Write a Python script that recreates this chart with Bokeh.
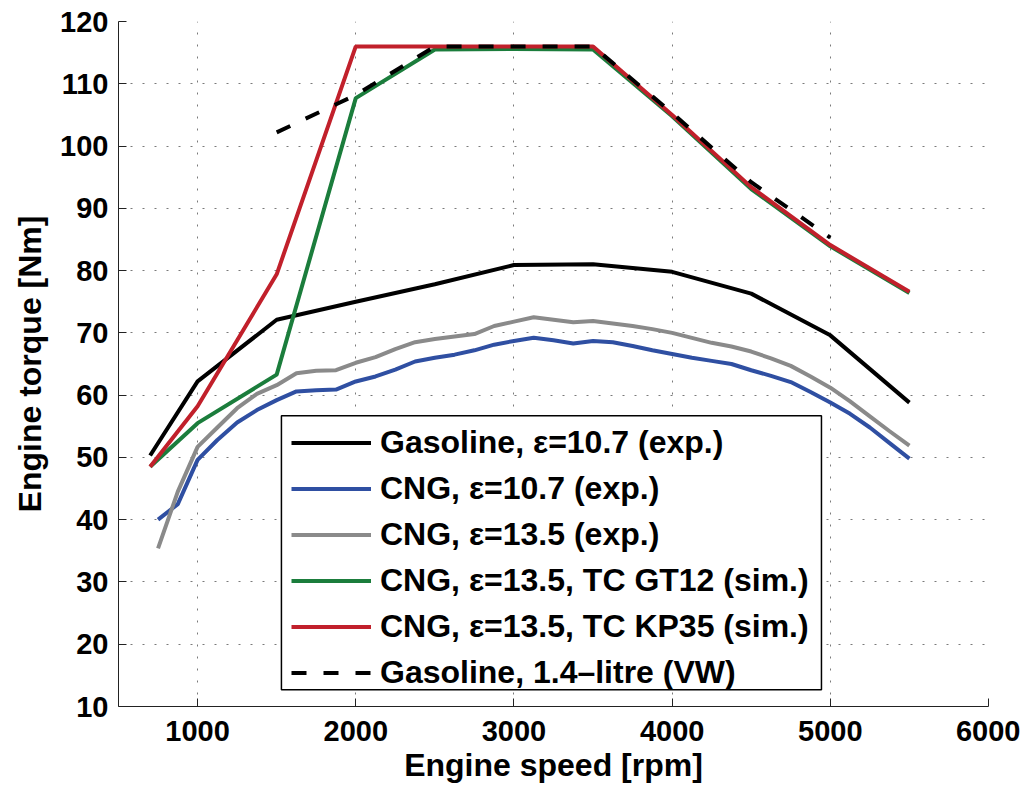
from bokeh.plotting import figure
from bokeh.models import Range1d, FixedTicker, Legend, LegendItem, BoxAnnotation
from bokeh.embed import file_html
from bokeh.resources import INLINE

# ---- data ----
x_ticks = [1000, 2000, 3000, 4000, 5000, 6000]
y_ticks = [10, 20, 30, 40, 50, 60, 70, 80, 90, 100, 110, 120]

speed_gas = [700, 1000, 1500, 2000, 2500, 3000, 3500, 4000, 4500, 5000, 5500]
torque_gas = [50.3, 62.2, 72.1, 75.0, 77.8, 80.9, 81.0, 79.8, 76.3, 69.6, 58.8]

speed_cng = [750, 875, 1000, 1125, 1250, 1375, 1500, 1625, 1750, 1875, 2000,
             2125, 2250, 2375, 2500, 2625, 2750, 2875, 3000, 3125, 3250, 3375,
             3500, 3625, 3750, 3875, 4000, 4125, 4250, 4375, 4500, 4625, 4750,
             4875, 5000, 5125, 5250, 5375, 5500]
torque_cng107 = [40.0, 42.5, 49.6, 52.8, 55.6, 57.6, 59.2, 60.6, 60.8, 60.9, 62.2,
                 63.0, 64.1, 65.4, 66.0, 66.5, 67.2, 68.1, 68.7, 69.2, 68.8, 68.3,
                 68.7, 68.5, 67.9, 67.2, 66.6, 66.0, 65.5, 65.0, 64.0, 63.1, 62.1,
                 60.5, 58.8, 57.0, 54.8, 52.3, 49.8]
torque_cng135 = [35.4, 44.5, 51.7, 54.8, 57.9, 60.2, 61.6, 63.5, 63.9, 64.0, 65.2,
                 66.1, 67.4, 68.5, 69.0, 69.4, 69.8, 71.1, 71.8, 72.5, 72.1, 71.7,
                 71.9, 71.5, 71.1, 70.6, 70.0, 69.2, 68.4, 67.8, 67.0, 65.9, 64.7,
                 63.0, 61.2, 59.0, 56.6, 54.2, 51.9]

speed_sim = [700, 1000, 1500, 2000, 2500, 3000, 3500, 4000, 4500, 5000, 5500]
torque_gt12 = [48.5, 55.5, 63.3, 107.7, 115.5, 115.6, 115.5, 104.8, 93.1, 83.9, 76.4]
torque_kp35 = [48.5, 58.2, 79.4, 116.0, 116.0, 116.0, 116.0, 105.0, 93.4, 84.1, 76.6]

speed_vw = [1500, 2000, 2500, 3000, 3500, 4000, 4500, 5000]
torque_vw = [102.2, 108.2, 116.0, 116.0, 116.0, 105.3, 94.2, 85.3]

labels = ["Gasoline, \u03b5=10.7 (exp.)",
          "CNG, \u03b5=10.7 (exp.)",
          "CNG, \u03b5=13.5 (exp.)",
          "CNG, \u03b5=13.5, TC GT12 (sim.)",
          "CNG, \u03b5=13.5, TC KP35 (sim.)",
          "Gasoline, 1.4\u2013litre (VW)"]

FONT = "Liberation Sans"

p = figure(width=1020, height=785,
           x_range=Range1d(500, 6000), y_range=Range1d(10, 120),
           output_backend="svg", toolbar_location=None,
           min_border_left=118, min_border_right=32,
           min_border_top=21, min_border_bottom=78,
           outline_line_color=None, background_fill_color="white")

LW = 4
r_gas = p.line(speed_gas, torque_gas, line_color="black", line_width=LW)
r_b = p.line(speed_cng, torque_cng107, line_color="#2f4fa2", line_width=LW)
r_g = p.line(speed_cng, torque_cng135, line_color="#8a8a8a", line_width=LW)
r_gt = p.line(speed_sim, torque_gt12, line_color="#1b7d3c", line_width=LW)
r_kp = p.line(speed_sim, torque_kp35, line_color="#c1202b", line_width=LW)
r_vw = p.line(speed_vw, torque_vw, line_color="black", line_width=LW, line_dash="15 17")

# axes
for ax, ticks in ((p.xaxis, x_ticks), (p.yaxis, y_ticks)):
    ax.ticker = FixedTicker(ticks=ticks)
    ax.major_label_text_font = FONT
    ax.major_label_text_font_style = "bold"
    ax.major_label_text_font_size = "29px"
    ax.major_label_text_color = "black"
    ax.major_tick_in = 8
    ax.major_tick_out = 0
    ax.minor_tick_line_color = None
    ax.axis_line_color = "#222222"
    ax.major_tick_line_color = "#222222"
    ax.axis_label_text_font = FONT
    ax.axis_label_text_font_style = "bold"
    ax.axis_label_text_font_size = "32px"
    ax.axis_label_text_color = "black"

p.xaxis.axis_label = "Engine speed [rpm]"
p.yaxis.axis_label = "Engine torque [Nm]"
p.xaxis.major_label_standoff = 14
p.xaxis.axis_label_standoff = 3
p.yaxis.major_label_standoff = 10
p.yaxis.axis_label_standoff = 9

for g in (p.xgrid, p.ygrid):
    g.grid_line_color = "#7a7a7a"
    g.grid_line_dash = "2 10"
    g.grid_line_width = 1

# legend frame (wider horizontal margins than Bokeh's uniform padding allows)
legend_box = BoxAnnotation(left=1530, right=4944, bottom=12.7, top=56.7,
                           fill_color="white", fill_alpha=1.0,
                           line_color="black", line_width=1.5, line_alpha=1.0)
p.add_layout(legend_box)

legend = Legend(items=[LegendItem(label=l, renderers=[r]) for l, r in
                       zip(labels, [r_gas, r_b, r_g, r_gt, r_kp, r_vw])],
                location=(173, 15))
legend.label_text_font = FONT
legend.label_text_font_style = "bold"
legend.label_text_font_size = "32px"
legend.label_text_color = "black"
legend.glyph_width = 80
legend.glyph_height = 37
legend.label_height = 37
legend.spacing = 9
legend.padding = 4
legend.margin = 0
legend.label_standoff = 9
legend.border_line_color = None
legend.background_fill_alpha = 0.0
p.add_layout(legend)

open("out.html", "w").write(file_html(p, INLINE))
